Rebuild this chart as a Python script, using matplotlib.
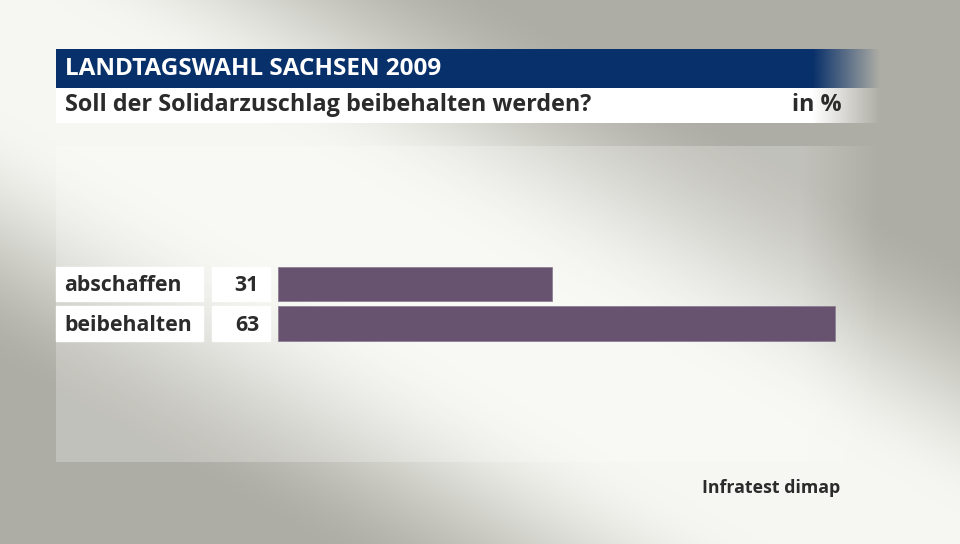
import numpy as np
import matplotlib
matplotlib.use("Agg")
import matplotlib.pyplot as plt
from matplotlib.transforms import blended_transform_factory

plt.rcParams['font.family'] = ['Open Sans', 'DejaVu Sans']

# ---- data ----
title = "LANDTAGSWAHL SACHSEN 2009"
subtitle = "Soll der Solidarzuschlag beibehalten werden?"
unit = "in %"
source = "Infratest dimap"
categories = ["abschaffen", "beibehalten"]
values = [31, 63]

W, H = 960, 544
fig = plt.figure(figsize=(W / 100, H / 100), dpi=100)
bg = fig.add_axes([0, 0, 1, 1])
bg.set_xlim(0, W)
bg.set_ylim(H, 0)
bg.axis('off')

# background gradient: light diagonal band from top-left to bottom-right
yy, xx = np.mgrid[0:H, 0:W].astype(float)
nvec = np.array([-544.0, 960.0]) / np.hypot(960, 544)
v = xx * nvec[0] + yy * nvec[1]
dist = np.abs(v - 35)
s = np.clip((dist - 60) / (290 - 60), 0, 1)
s = s * s * (3 - 2 * s)
t = 1 - s
light = np.array([246, 247, 242]) / 255
dark = np.array([174, 173, 165]) / 255
img = dark[None, None, :] + (light - dark)[None, None, :] * t[:, :, None]
bg.imshow(img, extent=(0, W, H, 0), aspect='auto', zorder=0, interpolation='bilinear')


def fade_strip(x0, x1, fs, fe, y0, y1, color, amax=1.0, z=1):
    xs = np.arange(int(x0), int(x1)) + 0.5
    a = np.clip((fe - xs) / (fe - fs), 0, 1) * amax
    rgba = np.zeros((1, len(xs), 4))
    rgba[0, :, :3] = matplotlib.colors.to_rgb(color)
    rgba[0, :, 3] = a
    bg.imshow(rgba, extent=(x0, x1, y1, y0), aspect='auto', zorder=z, interpolation='bilinear')


# light panel
fade_strip(56, 880, 800, 880, 146, 462, 'white', amax=0.25, z=1)
# header bar
fade_strip(56, 880, 813, 880, 49, 88, '#08306a', z=2)
# subtitle bar
fade_strip(56, 880, 813, 880, 88, 123, 'white', z=2)
bg.set_xlim(0, W)
bg.set_ylim(H, 0)

bg.text(65, 69, title, color='white', fontsize=17.5, fontweight='bold', va='center', ha='left', zorder=5)
bg.text(65, 105, subtitle, color='#2b2b2b', fontsize=16.8, fontweight='bold', va='center', ha='left', zorder=5)
bg.text(842, 105, unit, color='#2b2b2b', fontsize=16.8, fontweight='bold', va='center', ha='right', zorder=5)
bg.text(840, 488, source, color='#2b2b2b', fontsize=12.8, fontweight='bold', va='center', ha='right', zorder=5)

# bar axes
px_per_unit = (835 - 278) / 63
ax_left, ax_right = 278, 880
pitch = 39.5
top = 284 - pitch / 2
ax = fig.add_axes([ax_left / W, 1 - (top + 2 * pitch) / H, (ax_right - ax_left) / W, 2 * pitch / H])
ax.set_xlim(0, (ax_right - ax_left) / px_per_unit)
ax.set_ylim(len(categories) - 0.5, -0.5)
ax.axis('off')
ax.patch.set_alpha(0)
ypos = np.arange(len(categories))
bh = 34.5 / pitch
ax.barh(ypos, values, height=bh, color='#67526f', edgecolor='#8d7f94', linewidth=0.6, zorder=3)

tr = blended_transform_factory(bg.transData, ax.transData)
for i, (c, val) in enumerate(zip(categories, values)):
    ax.add_patch(plt.Rectangle((56, i - bh / 2), 147, bh, transform=tr, color='white', clip_on=False, zorder=2))
    ax.add_patch(plt.Rectangle((212, i - bh / 2), 58, bh, transform=tr, color='white', clip_on=False, zorder=2))
    ax.text(64, i + 0.04, c, transform=tr, fontsize=15.3, fontweight='bold', color='#2b2b2b', va='center', ha='left', clip_on=False, zorder=4)
    ax.text(259, i + 0.04, str(val), transform=tr, fontsize=15.3, fontweight='bold', color='#2b2b2b', va='center', ha='right', clip_on=False, zorder=4)

fig.savefig('out.png', dpi=100)
